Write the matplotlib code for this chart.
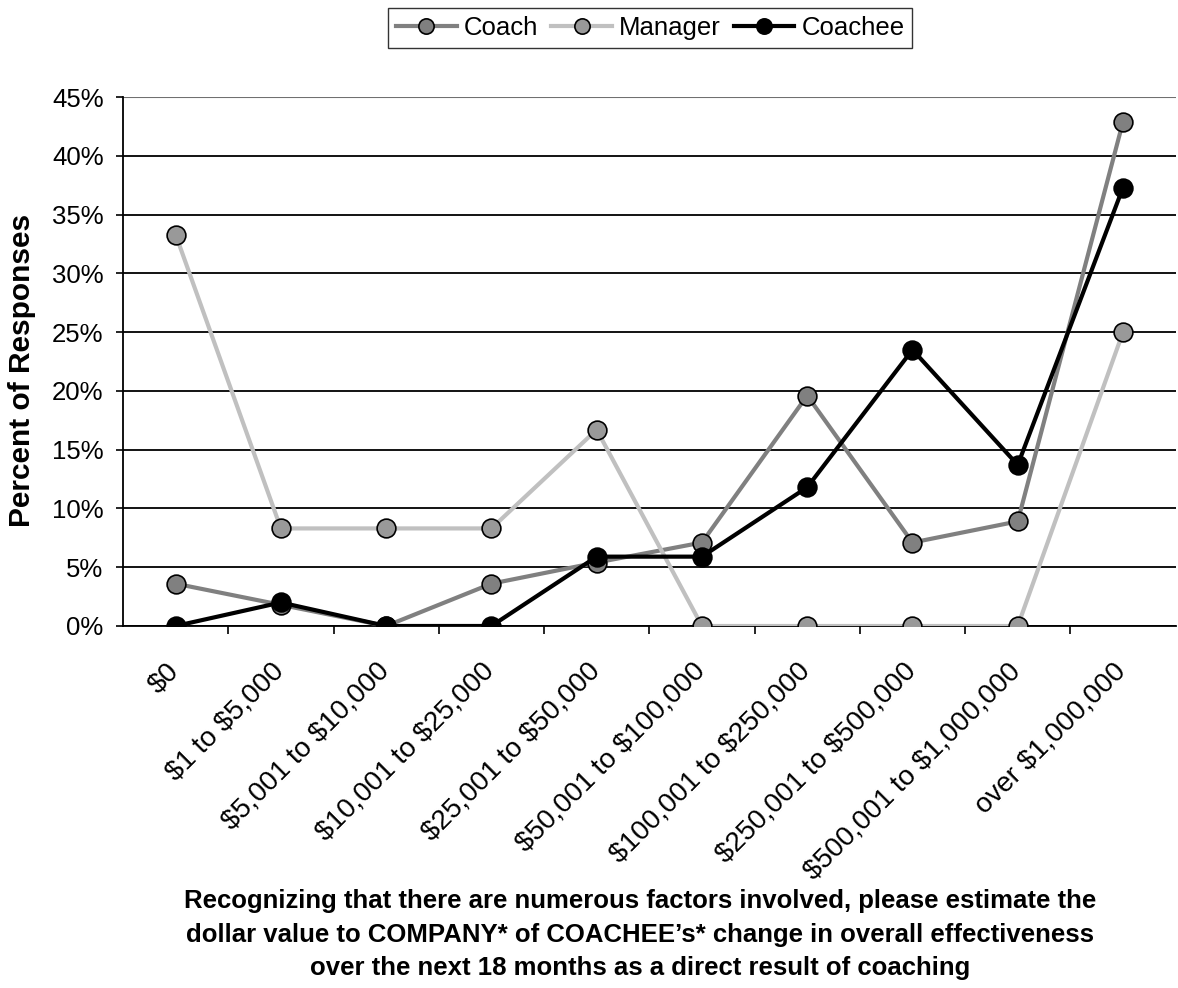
import numpy as np
import matplotlib.pyplot as plt
from matplotlib.ticker import FixedLocator, PercentFormatter
from matplotlib.transforms import ScaledTranslation

plt.rcParams['font.family'] = ['Liberation Sans', 'DejaVu Sans']
plt.rcParams['text.parse_math'] = False   # keep the $ signs literal

# categories and percent of responses for each group
categories = ["$0", "$1 to $5,000", "$5,001 to $10,000", "$10,001 to $25,000",
              "$25,001 to $50,000", "$50,001 to $100,000", "$100,001 to $250,000",
              "$250,001 to $500,000", "$500,001 to $1,000,000", "over $1,000,000"]
coach = [3.6, 1.8, 0.0, 3.6, 5.4, 7.1, 19.6, 7.1, 8.9, 42.9]
manager = [33.3, 8.3, 8.3, 8.3, 16.7, 0.0, 0.0, 0.0, 0.0, 25.0]
coachee = [0.0, 2.0, 0.0, 0.0, 5.9, 5.9, 11.8, 23.5, 13.7, 37.3]

fig = plt.figure(figsize=(11.78, 9.88), dpi=100)
ax = fig.add_axes([0.1044, 0.3664, 0.8936, 0.5354])

x = np.arange(len(categories))
ax.plot(x, coach, color='#808080', lw=3, marker='o', ms=13.5, mfc='#808080',
        mec='black', mew=1.2, label='Coach', zorder=3)
ax.plot(x, manager, color='#c0c0c0', lw=3, marker='o', ms=13.5, mfc='#999999',
        mec='black', mew=1.2, label='Manager', zorder=3)
ax.plot(x, coachee, color='black', lw=3, marker='o', ms=13.5, mfc='black',
        mec='black', mew=1.2, label='Coachee', zorder=4)

ax.set_xlim(-0.5, len(categories) - 0.5)
ax.set_ylim(0, 45)
ax.set_yticks(np.arange(0, 46, 5))
ax.yaxis.set_major_formatter(PercentFormatter(decimals=0))
ax.grid(axis='y', color='black', lw=1.3, zorder=1)
ax.tick_params(axis='y', length=5, width=1.2, labelsize=18.5, pad=9)

ax.set_xticks(x)
ax.set_xticklabels(categories, rotation=45, ha='right', va='top',
                   rotation_mode='anchor', fontsize=20)
ax.tick_params(axis='x', which='major', length=0, pad=23)
shift = ScaledTranslation(-10 / 100, 0, fig.dpi_scale_trans)
for lab in ax.get_xticklabels():
    lab.set_transform(lab.get_transform() + shift)
ax.xaxis.set_minor_locator(FixedLocator(np.arange(0.5, len(categories) - 1, 1)))
ax.tick_params(axis='x', which='minor', length=6, width=1.2)

for s in ['top', 'right']:
    ax.spines[s].set_visible(False)
ax.spines['left'].set_linewidth(1.3)
ax.spines['bottom'].set_linewidth(1.3)
ax.axhline(45, color='#707070', lw=1.5, zorder=1)
ax.get_ygridlines()[-1].set_color('#707070')

fig.text(0.0187, 0.6255, 'Percent of Responses', rotation=90, ha='center',
         va='center', fontsize=21.5, fontweight='bold')

fig.text(0.543, 0.100,
         "Recognizing that there are numerous factors involved, please estimate the\n"
         "dollar value to COMPANY* of COACHEE\u2019s* change in overall effectiveness\n"
         "over the next 18 months as a direct result of coaching",
         ha='center', va='top', fontsize=18.5, fontweight='bold', linespacing=1.49)

leg = fig.legend(loc='center', bbox_to_anchor=(0.552, 0.9717), ncol=3, fontsize=18.5,
                 frameon=True, fancybox=False, edgecolor='black', handlelength=2.37,
                 handletextpad=0.27, columnspacing=0.5, borderpad=0.3)
leg.get_frame().set_linewidth(1.0)
for h in leg.legend_handles:
    h.set_markersize(11)

fig.savefig('out.png', dpi=100)
